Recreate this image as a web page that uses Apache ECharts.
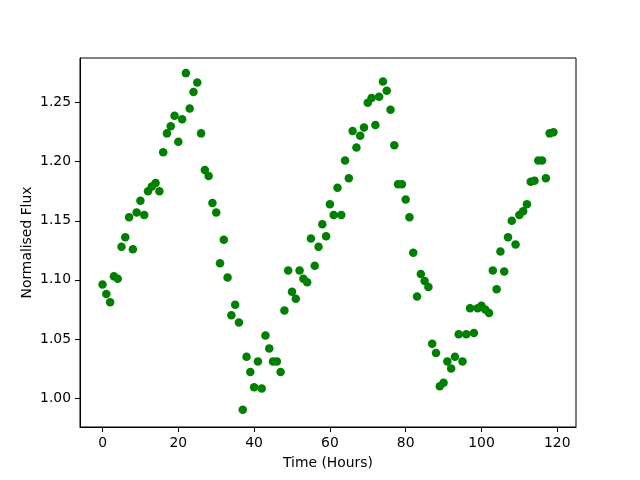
<!DOCTYPE html>
<html>
<head>
<meta charset="utf-8">
<script src="https://cdn.jsdelivr.net/npm/echarts@6/dist/echarts.min.js"></script>
<style>
  html, body { margin: 0; padding: 0; background: #fff; }
  #chart { width: 640px; height: 480px; }
</style>
</head>
<body>
<div id="chart"></div>
<script>
// hours since start, one reading per hour
var hours = [];
for (var h = 0; h < 120; h++) hours.push(h);

var flux = [
  1.096, 1.088, 1.081, 1.103, 1.101, 1.128, 1.136, 1.153, 1.126, 1.157,
  1.167, 1.155, 1.175, 1.179, 1.182, 1.175, 1.208, 1.224, 1.230, 1.239,
  1.217, 1.236, 1.275, 1.245, 1.259, 1.267, 1.224, 1.193, 1.188, 1.165,
  1.157, 1.114, 1.134, 1.102, 1.070, 1.079, 1.064, 0.990, 1.035, 1.022,
  1.009, 1.031, 1.008, 1.053, 1.042, 1.031, 1.031, 1.022, 1.074, 1.108,
  1.090, 1.084, 1.108, 1.101, 1.098, 1.135, 1.112, 1.128, 1.147, 1.137,
  1.164, 1.155, 1.178, 1.155, 1.201, 1.186, 1.226, 1.212, 1.222, 1.229,
  1.250, 1.254, 1.231, 1.255, 1.268, 1.260, 1.244, 1.214, 1.181, 1.181,
  1.168, 1.153, 1.123, 1.086, 1.105, 1.099, 1.094, 1.046, 1.038, 1.010,
  1.013, 1.031, 1.025, 1.035, 1.054, 1.031, 1.054, 1.076, 1.055, 1.076,
  1.078, 1.075, 1.072, 1.108, 1.092, 1.124, 1.107, 1.136, 1.150, 1.130,
  1.155, 1.158, 1.164, 1.183, 1.184, 1.201, 1.201, 1.186, 1.224, 1.225
];

var xTicks = [0, 20, 40, 60, 80, 100, 120];
var yTicks = [1.00, 1.05, 1.10, 1.15, 1.20, 1.25];

var points = hours.map(function (h, i) { return [h, flux[i]]; });

var font = 'DejaVu Sans';
var myChart = echarts.init(document.getElementById('chart'));

var option = {
  animation: false,
  backgroundColor: '#fff',
  textStyle: { fontFamily: font },
  grid: {
    left: 80, right: 64, top: 58, bottom: 53,
    show: true, borderColor: '#000', borderWidth: 1, backgroundColor: 'transparent'
  },
  xAxis: {
    type: 'value',
    min: -5.95, max: 124.95,
    name: 'Time (Hours)',
    nameLocation: 'middle',
    nameGap: 29,
    nameMoveOverlap: false,
    nameTextStyle: { color: '#000', fontSize: 13.9, fontFamily: font },
    axisLine: { show: true, onZero: false, lineStyle: { color: '#000', width: 1 } },
    axisTick: { show: true, length: 5, inside: false, customValues: xTicks, lineStyle: { color: '#000' } },
    axisLabel: { color: '#000', fontSize: 13.9, margin: 9, customValues: xTicks },
    splitLine: { show: false }
  },
  yAxis: {
    type: 'value',
    min: 0.97545, max: 1.2878,
    name: 'Normalised Flux',
    nameLocation: 'middle',
    nameGap: 46,
    nameMoveOverlap: false,
    nameTextStyle: { color: '#000', fontSize: 13.9, fontFamily: font },
    axisLine: { show: true, onZero: false, lineStyle: { color: '#000', width: 1 } },
    axisTick: { show: true, length: 5, inside: false, customValues: yTicks, lineStyle: { color: '#000' } },
    axisLabel: {
      color: '#000', fontSize: 13.9, margin: 9, customValues: yTicks,
      formatter: function (v) { return v.toFixed(2); }
    },
    splitLine: { show: false }
  },
  series: [
    {
      type: 'scatter',
      data: points,
      symbol: 'circle',
      symbolSize: 8.5,
      itemStyle: { color: '#008000', opacity: 1 }
    }
  ]
};

myChart.setOption(option);
</script>
</body>
</html>
